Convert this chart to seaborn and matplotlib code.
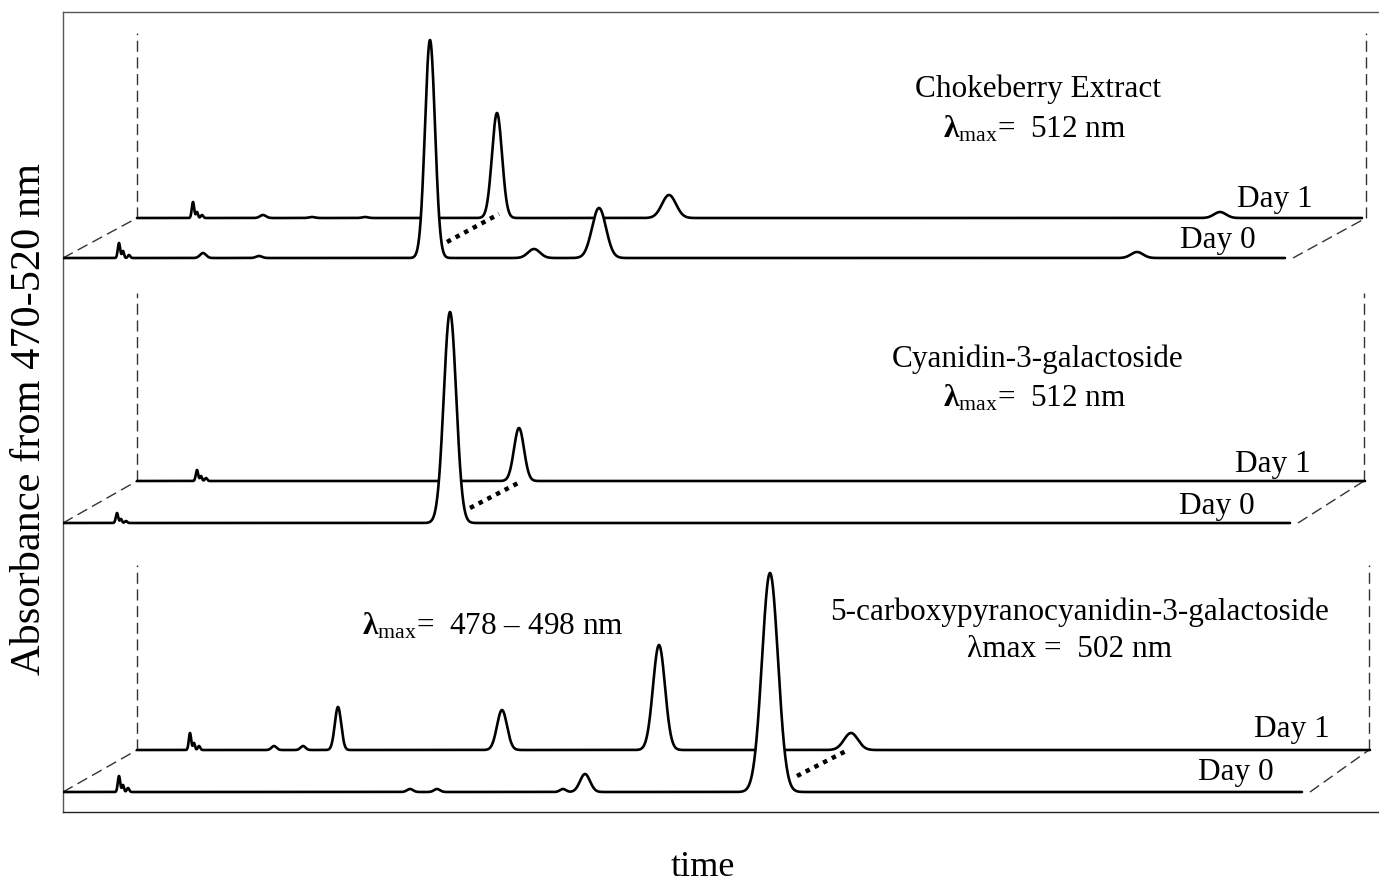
import numpy as np
import pandas as pd
import matplotlib
matplotlib.use("Agg")
import matplotlib.pyplot as plt
import seaborn as sns

sns.set_theme(style="white")
plt.rcParams["font.family"] = ["Liberation Serif", "DejaVu Serif"]
plt.rcParams["mathtext.fontset"] = "custom"
plt.rcParams["mathtext.rm"] = "Liberation Serif"
plt.rcParams["mathtext.bf"] = "Liberation Serif:bold"
plt.rcParams["mathtext.it"] = "Liberation Serif:italic"
plt.rcParams["text.color"] = "black"

# ---------------- data: peaks (retention time, height, width) ----------------
# Panel 1: Chokeberry extract
p1_d0_rt = [56, 60, 66, 140, 196, 367, 471, 536, 1074]
p1_d0_h = [15, 7, 3, 5, 2, 218, 9, 50, 6]
p1_d0_w = [1.2, 1.0, 1.2, 3.0, 3.0, 5.0, 6.0, 7.0, 6.0]
p1_d0_end = 1222

p1_d1_rt = [56, 60, 65, 126, 175, 228, 360, 532, 1083]
p1_d1_h = [16, 6, 3, 3, 1, 1, 105, 23, 6]
p1_d1_w = [1.2, 1.0, 1.2, 3.0, 3.0, 3.0, 5.0, 7.0, 6.0]
p1_d1_end = 1225

# Panel 2: Cyanidin-3-galactoside
p2_d0_rt = [54, 58, 63, 387]
p2_d0_h = [10, 4, 2, 211]
p2_d0_w = [1.2, 1.0, 1.2, 6.2]
p2_d0_end = 1227

p2_d1_rt = [60, 64, 69, 382]
p2_d1_h = [11, 5, 3, 53]
p2_d1_w = [1.2, 1.0, 1.2, 5.0]
p2_d1_end = 1228

# Panel 3: 5-carboxypyranocyanidin-3-galactoside
p3_d0_rt = [56, 60, 65, 347, 374, 500, 522, 707]
p3_d0_h = [16, 7, 4, 3, 3, 3, 18, 219]
p3_d0_w = [1.2, 1.0, 1.2, 3.0, 3.0, 3.0, 5.0, 8.0]
p3_d0_end = 1239

p3_d1_rt = [53, 57, 62, 137, 166, 201, 365, 522, 714]
p3_d1_h = [17, 7, 4, 4, 4, 43, 40, 105, 17]
p3_d1_w = [1.2, 1.0, 1.2, 2.5, 2.5, 3.2, 5.0, 6.0, 7.0]
p3_d1_end = 1233

titles = ["Chokeberry Extract", "Cyanidin-3-galactoside",
          "5-carboxypyranocyanidin-3-galactoside"]
lambda_bold = [r"$\mathbf{λ}_{\mathrm{max}}$=  512 nm",
               r"$\mathbf{λ}_{\mathrm{max}}$=  512 nm",
               None]
lambda_plain = [None, None, "λmax =  502 nm"]
extra_label = r"$\mathbf{λ}_{\mathrm{max}}$=  478 – 498 nm"
day_labels = ["Day 1", "Day 0"]
ylabel = "Absorbance from 470-520 nm"
xlabel = "time"

# ---------------- layout (pixel-like coordinates) ----------------
W, H = 1379, 884
fig = plt.figure(figsize=(W / 100, H / 100), dpi=100)
ax = fig.add_axes([63 / W, (H - 812) / H, (W - 63) / W, (812 - 12) / H])
ax.set_xlim(63, W)
ax.set_ylim(812, 12)
ax.set_xticks([])
ax.set_yticks([])
for s in ["left", "top"]:
    ax.spines[s].set_color("#555555")
    ax.spines[s].set_linewidth(1.0)
ax.spines["bottom"].set_color("#222222")
ax.spines["bottom"].set_linewidth(1.0)
ax.spines["right"].set_visible(False)

panels = [
    dict(d0=(p1_d0_rt, p1_d0_h, p1_d0_w, p1_d0_end),
         d1=(p1_d1_rt, p1_d1_h, p1_d1_w, p1_d1_end),
         base0=258, base1=218, top=33, rx=1366,
         dot=((447, 242), (499, 214)),
         title_xy=(1038, 97), lam_xy=(1035, 138),
         day1_xy=(1275, 207), day0_xy=(1218, 248)),
    dict(d0=(p2_d0_rt, p2_d0_h, p2_d0_w, p2_d0_end),
         d1=(p2_d1_rt, p2_d1_h, p2_d1_w, p2_d1_end),
         base0=523, base1=481, top=293, rx=1364,
         dot=((470, 508), (522, 481)),
         title_xy=(1038, 367), lam_xy=(1035, 407),
         day1_xy=(1273, 472), day0_xy=(1217, 514)),
    dict(d0=(p3_d0_rt, p3_d0_h, p3_d0_w, p3_d0_end),
         d1=(p3_d1_rt, p3_d1_h, p3_d1_w, p3_d1_end),
         base0=792, base1=750, top=565, rx=1369,
         dot=((797, 776), (848, 750)),
         title_xy=(1080, 620), lam_xy=(1070, 657),
         day1_xy=(1292, 737), day0_xy=(1236, 780)),
]

X0, X1 = 63, 137
FS = 22.5


def trace(rt, h, w, end):
    t = np.arange(0, end + 0.25, 0.25)
    y = np.zeros_like(t)
    for c, a, s in zip(rt, h, w):
        y += a * np.exp(-0.5 * ((t - c) / s) ** 2)
    return t, y


dash = dict(color="#333333", lw=1.0, ls=(0, (8, 4)))

for i, p in enumerate(panels):
    t1, y1 = trace(*p["d1"])
    t0, y0 = trace(*p["d0"])
    df1 = pd.DataFrame({"x": X1 + t1, "y": p["base1"] - y1})
    df0 = pd.DataFrame({"x": X0 + t0, "y": p["base0"] - y0})
    sns.lineplot(data=df1, x="x", y="y", ax=ax, color="black", lw=1.9,
                 sort=False, estimator=None, zorder=2)
    ax.fill_between(df0["x"], df0["y"], p["base0"], color="white", lw=0, zorder=3)
    sns.lineplot(data=df0, x="x", y="y", ax=ax, color="black", lw=1.9,
                 sort=False, estimator=None, zorder=4)
    # perspective frame
    ax.plot([X0, X1], [p["base0"], p["base1"]], zorder=1, **dash)
    ax.plot([X1, X1], [p["base1"], p["top"]], zorder=1, **dash)
    ax.plot([p["rx"], p["rx"]], [p["base1"], p["top"]], zorder=1, **dash)
    ax.plot([X0 + p["d0"][3] + 8, p["rx"]], [p["base0"], p["base1"]], zorder=1, **dash)
    # dotted connector
    (a, b), (c, d) = p["dot"]
    ax.plot([a, c], [b, d], color="black", lw=3.2, ls=(0, (1, 1.2)), zorder=5)
    # labels
    tx, ty = p["title_xy"]
    ax.text(tx, ty, titles[i], ha="center", va="baseline", fontsize=FS)
    lx, ly = p["lam_xy"]
    if lambda_bold[i]:
        ax.text(lx, ly, lambda_bold[i], ha="center", va="baseline", fontsize=FS)
    else:
        ax.text(lx, ly, lambda_plain[i], ha="center", va="baseline", fontsize=FS)
    ax.text(*p["day1_xy"], day_labels[0], ha="center", va="baseline", fontsize=FS)
    ax.text(*p["day0_xy"], day_labels[1], ha="center", va="baseline", fontsize=FS)

ax.text(493, 635, extra_label, ha="center", va="baseline", fontsize=FS)
ax.set_xlabel("")
ax.set_ylabel("")
fig.text(703 / W, 1 - 868 / H, xlabel, ha="center", va="center", fontsize=26)
fig.text(30 / W, 1 - 419 / H, ylabel, ha="center", va="center",
         rotation=90, fontsize=30.5)

fig.savefig("out.png", dpi=100)
